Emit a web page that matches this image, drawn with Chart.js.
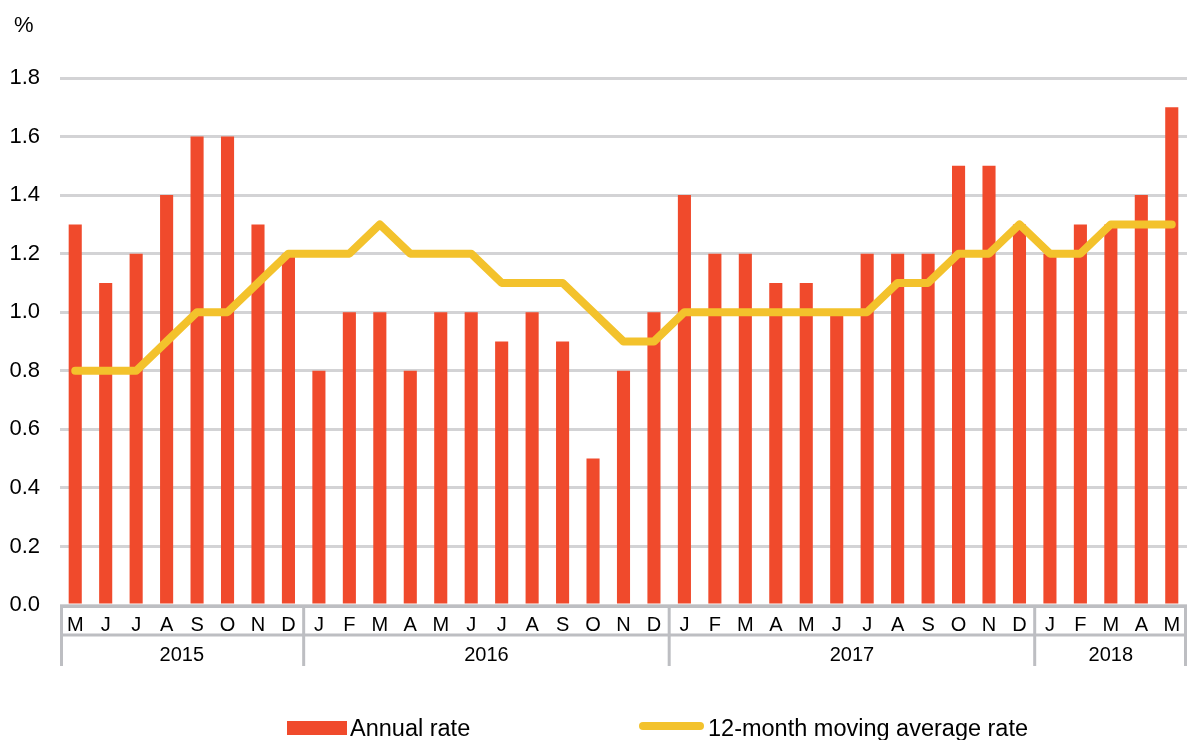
<!DOCTYPE html>
<html>
<head>
<meta charset="utf-8">
<script src="https://cdn.jsdelivr.net/npm/chart.js@4"></script>
<style>
  html, body { margin: 0; padding: 0; background: #fff; }
  #wrap { width: 1187px; height: 740px; }
</style>
</head>
<body>
<div id="wrap"><canvas id="rateChart"></canvas></div>
<script>
const months = [
  'M', 'J', 'J', 'A', 'S', 'O', 'N', 'D',
  'J', 'F', 'M', 'A', 'M', 'J', 'J', 'A', 'S', 'O', 'N', 'D',
  'J', 'F', 'M', 'A', 'M', 'J', 'J', 'A', 'S', 'O', 'N', 'D',
  'J', 'F', 'M', 'A', 'M'
];
const yearLabels = ['2015', '2016', '2017', '2018'];
const yearSpans = [8, 12, 12, 5];

const annualRate = [
  1.3, 1.1, 1.2, 1.4, 1.6, 1.6, 1.3, 1.2,
  0.8, 1.0, 1.0, 0.8, 1.0, 1.0, 0.9, 1.0, 0.9, 0.5, 0.8, 1.0,
  1.4, 1.2, 1.2, 1.1, 1.1, 1.0, 1.2, 1.2, 1.2, 1.5, 1.5, 1.3,
  1.2, 1.3, 1.3, 1.4, 1.7
];
const movingAvg = [
  0.8, 0.8, 0.8, 0.9, 1.0, 1.0, 1.1, 1.2,
  1.2, 1.2, 1.3, 1.2, 1.2, 1.2, 1.1, 1.1, 1.1, 1.0, 0.9, 0.9,
  1.0, 1.0, 1.0, 1.0, 1.0, 1.0, 1.0, 1.1, 1.1, 1.2, 1.2, 1.3,
  1.2, 1.2, 1.3, 1.3, 1.3
];

const RED = '#f04a2c';
const YELLOW = '#f3c22c';
const AXIS_GREY = '#bdbec2';
const FONT = "'Liberation Sans', Arial, sans-serif";

// draws the two-row category axis (months / years), the unit label and the legend
const axisDecor = {
  id: 'axisDecor',
  afterDraw(chart) {
    const { ctx, chartArea } = chart;
    const x = chart.scales.x;
    const half = (x.getPixelForValue(1) - x.getPixelForValue(0)) / 2;
    const bottom = chartArea.bottom;

    ctx.save();
    ctx.strokeStyle = AXIS_GREY;
    ctx.lineWidth = 3;
    ctx.beginPath();
    ctx.moveTo(chartArea.left, bottom + 1.5);
    ctx.lineTo(chartArea.right, bottom + 1.5);
    ctx.moveTo(chartArea.left, bottom + 30);
    ctx.lineTo(chartArea.right, bottom + 30);

    let start = 0;
    const bounds = [x.getPixelForValue(0) - half + 1.5];
    yearSpans.forEach(span => {
      start += span;
      let px = x.getPixelForValue(start - 1) + half;
      if (px > chartArea.right - 1.5) px = chartArea.right - 1.5;
      bounds.push(px);
    });
    bounds.forEach(px => {
      ctx.moveTo(px, bottom);
      ctx.lineTo(px, bottom + 61);
    });
    ctx.stroke();

    ctx.fillStyle = '#000';
    ctx.textAlign = 'center';
    ctx.textBaseline = 'alphabetic';
    ctx.font = '20px ' + FONT;
    months.forEach((m, i) => {
      ctx.fillText(m, x.getPixelForValue(i), bottom + 26);
    });

    ctx.font = '20px ' + FONT;
    start = 0;
    yearLabels.forEach((y, i) => {
      const a = x.getPixelForValue(start) - half;
      const b = x.getPixelForValue(start + yearSpans[i] - 1) + half;
      ctx.fillText(y, (a + b) / 2, bottom + 56);
      start += yearSpans[i];
    });

    // unit
    ctx.textAlign = 'left';
    ctx.font = '22px ' + FONT;
    ctx.fillText('%', 14, 32);

    // legend
    const ds = chart.data.datasets;
    ctx.font = '23.5px ' + FONT;
    ctx.fillStyle = ds[0].backgroundColor;
    ctx.fillRect(287, 721, 60, 14);
    ctx.fillStyle = '#000';
    ctx.fillText(ds[0].label, 350, 736);

    ctx.strokeStyle = ds[1].borderColor;
    ctx.lineWidth = 8;
    ctx.lineCap = 'round';
    ctx.beginPath();
    ctx.moveTo(643, 726);
    ctx.lineTo(700, 726);
    ctx.stroke();
    ctx.fillText(ds[1].label, 708, 736);
    ctx.restore();
  }
};

const ctx = document.getElementById('rateChart').getContext('2d');
new Chart(ctx, {
  type: 'bar',
  data: {
    labels: months,
    datasets: [
      {
        type: 'bar',
        label: 'Annual rate',
        data: annualRate,
        backgroundColor: RED,
        categoryPercentage: 1,
        barPercentage: 0.43,
        order: 1
      },
      {
        type: 'line',
        label: '12-month moving average rate',
        data: movingAvg,
        borderColor: YELLOW,
        backgroundColor: YELLOW,
        borderWidth: 8,
        borderCapStyle: 'round',
        borderJoinStyle: 'round',
        pointRadius: 0,
        tension: 0,
        order: 0
      }
    ]
  },
  options: {
    responsive: true,
    maintainAspectRatio: false,
    animation: false,
    layout: { padding: { top: 78, right: 0, bottom: 0, left: 0 } },
    plugins: {
      legend: { display: false },
      tooltip: { enabled: false }
    },
    scales: {
      x: {
        offset: true,
        grid: { display: false },
        border: { display: false },
        ticks: { display: false },
        afterFit: s => { s.height = 135; }
      },
      y: {
        min: 0,
        max: 1.8,
        grid: { color: '#d3d3d5', lineWidth: 3, drawTicks: false },
        border: { display: false },
        ticks: {
          stepSize: 0.2,
          padding: 20,
          color: '#000',
          font: { family: FONT, size: 22 },
          callback: v => v.toFixed(1)
        },
        afterFit: s => { s.width = 60; }
      }
    }
  },
  plugins: [axisDecor]
});
</script>
</body>
</html>
